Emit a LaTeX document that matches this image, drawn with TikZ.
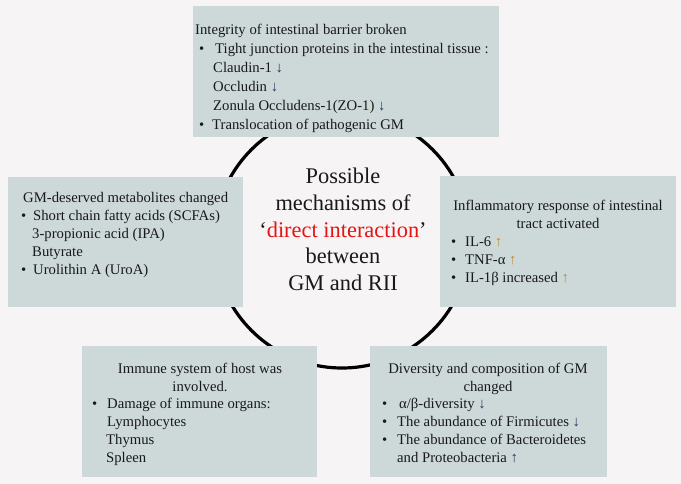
\documentclass[tikz,border=0pt]{standalone}
\usepackage{fontspec}
\setmainfont{Liberation Serif}
\definecolor{pagefill}{RGB}{246,244,245}
\definecolor{panelfill}{RGB}{205,217,216}
\definecolor{downblue}{RGB}{31,56,100}
\definecolor{uporange}{RGB}{196,137,62}
\definecolor{keyred}{RGB}{228,20,20}
\newcommand{\arrdown}{\textcolor{downblue}{↓}}
\newcommand{\arrup}{\textcolor{uporange}{↑}}
\newcommand{\arrupdark}{\textcolor{downblue}{↑}}
\newcommand{\bul}[1]{\makebox[#1][l]{\textbullet}}
\begin{document}
\begin{tikzpicture}[x=1pt,y=-1pt,
    panel/.style={fill=panelfill,draw=none,anchor=north west,inner sep=0pt},
    txt/.style={anchor=north west,inner sep=0pt,align=left,text=black!90,
      font=\fontsize{14.7}{18}\selectfont},
    ttl/.style={anchor=north,inner sep=0pt,align=center,text=black!90,
      font=\fontsize{14.7}{18}\selectfont}]
  \fill[pagefill] (0,0) rectangle (681,484);
  \useasboundingbox (0,0) rectangle (681,484);
  % ring behind the panels
  \node[draw,circle,line width=3.2pt,minimum size=256pt,inner sep=0pt] (ring) at (342,240) {};
  \node[anchor=north,inner sep=0pt,align=center,text=black!90,
    font=\fontsize{22.4}{26.6}\selectfont] (core) at (343,165)
    {\strut Possible\\mechanisms of\\‘\textcolor{keyred}{direct interaction}’\\between\\GM and RII};
  % panels
  \node[panel,minimum width=306pt,minimum height=131pt] (barrier) at (193,6) {};
  \node[panel,minimum width=235pt,minimum height=130pt] (metab) at (8,177) {};
  \node[panel,minimum width=236pt,minimum height=131pt] (inflam) at (440,176) {};
  \node[panel,minimum width=235pt,minimum height=131pt] (immune) at (82,346) {};
  \node[panel,minimum width=237pt,minimum height=131pt] (divers) at (370,346) {};
  % panel texts
  \node[txt,font=\fontsize{14.7}{19}\selectfont] (barrierText) at (195,21.4)
    {\strut Integrity of intestinal barrier broken\\
     \hspace*{4pt}\bul{16pt}Tight junction proteins in the intestinal tissue :\\
     \hspace*{18pt}Claudin-1 \arrdown\\
     \hspace*{18pt}Occludin \arrdown\\
     \hspace*{18pt}Zonula Occludens-1(ZO-1) \arrdown\\
     \hspace*{4pt}\bul{13pt}Translocation of pathogenic GM};
  \node[txt] (metabText) at (21,189.4)
    {\strut\hspace*{2pt}GM-deserved metabolites changed\\
     \bul{12pt}Short chain fatty acids (SCFAs)\\
     \hspace*{11pt}3-propionic acid (IPA)\\
     \hspace*{11pt}Butyrate\\
     \bul{12pt}Urolithin A (UroA)};
  \node[ttl] (inflamTitle) at (558,197.4)
    {\strut Inflammatory response of intestinal\\tract activated};
  \node[txt] (inflamText) at (451,233.4)
    {\strut\bul{14pt}IL-6 \arrup\\
     \bul{14pt}TNF-α \arrup\\
     \bul{14pt}IL-1β increased \arrup};
  \node[ttl] (immuneTitle) at (200,360.4)
    {\strut Immune system of host was\\involved.};
  \node[txt] (immuneText) at (92,395.4)
    {\strut\bul{15pt}Damage of immune organs:\\
     \hspace*{15pt}Lymphocytes\\
     \hspace*{14pt}Thymus\\
     \hspace*{14pt}Spleen};
  \node[ttl] (diversTitle) at (488,360.4)
    {\strut Diversity and composition of GM\\changed};
  \node[txt] (diversText) at (382,395.4)
    {\strut\bul{17pt}α/β-diversity \arrdown\\
     \bul{15pt}The abundance of Firmicutes \arrdown\\
     \bul{15pt}The abundance of Bacteroidetes\\
     \hspace*{15pt}and Proteobacteria \arrupdark};
\end{tikzpicture}
\end{document}
